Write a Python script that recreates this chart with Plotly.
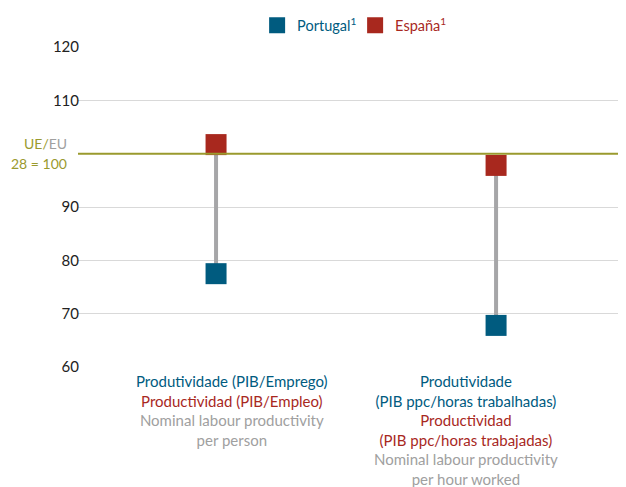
import plotly.graph_objects as go

categories = ["PIB/Emprego", "PIB/horas"]
portugal = [77.5, 67.8]
espana = [101.7, 97.8]
eu_ref = 100
tick_vals = [60, 70, 80, 90, 110, 120]

TEAL = "#005b7f"
RED = "#a8281e"
GRAY = "#a0a0a0"
OLIVE = "#9a9a2e"
FONT = "Lato"

# page body has an 8px margin, so the figure is 8px smaller on each axis
W, H = 618, 479
L, T, PH = 70, 39, 320
PW = W - L

fig = go.Figure()
for i, c in enumerate(categories):
    fig.add_trace(go.Scatter(x=[c, c], y=[portugal[i], espana[i]], mode="lines",
                             line=dict(color="#a6a6a8", width=4), showlegend=False, hoverinfo="skip"))

fig.add_trace(go.Scatter(x=categories, y=portugal, mode="markers",
                         name=f"<span style='color:{TEAL}'>Portugal<sup>1</sup></span>",
                         marker=dict(symbol="square", size=21, color=TEAL)))
fig.add_trace(go.Scatter(x=categories, y=espana, mode="markers",
                         name=f"<span style='color:{RED}'>España<sup>1</sup></span>",
                         marker=dict(symbol="square", size=21, color=RED)))

fig.add_shape(type="line", xref="paper", x0=0, x1=1, yref="y", y0=eu_ref, y1=eu_ref,
              line=dict(color=OLIVE, width=2))

fig.add_annotation(xref="paper", x=(60 - L) / PW, xanchor="right", yref="y", y=eu_ref + 1.9,
                   yanchor="middle",
                   text=f"<span style='color:{OLIVE}'>UE/</span><span style='color:{GRAY}'>EU</span>",
                   showarrow=False, align="right", borderpad=0, font=dict(family=FONT, size=14))
fig.add_annotation(xref="paper", x=(60 - L) / PW, xanchor="right", yref="y", y=eu_ref - 1.85,
                   yanchor="middle",
                   text=f"<span style='color:{OLIVE}'>28 = 100</span>",
                   showarrow=False, align="right", borderpad=0, font=dict(family=FONT, size=14))

label1 = (f"<span style='color:{TEAL}'>Produtividade (PIB/Emprego)</span><br>"
          f"<span style='color:{RED}'>Productividad (PIB/Empleo)</span><br>"
          f"<span style='color:{GRAY}'>Nominal labour productivity</span><br>"
          f"<span style='color:{GRAY}'>per person</span>")
label2 = (f"<span style='color:{TEAL}'>Produtividade</span><br>"
          f"<span style='color:{TEAL}'>(PIB ppc/horas trabalhadas)</span><br>"
          f"<span style='color:{RED}'>Productividad</span><br>"
          f"<span style='color:{RED}'>(PIB ppc/horas trabajadas)</span><br>"
          f"<span style='color:{GRAY}'>Nominal labour productivity</span><br>"
          f"<span style='color:{GRAY}'>per hour worked</span>")
fig.add_annotation(xref="paper", x=(224 - L) / PW, xanchor="center", yref="paper", y=-0.01, yanchor="top",
                   text=label1, showarrow=False, align="center", font=dict(family=FONT, size=15))
fig.add_annotation(xref="paper", x=(458 - L) / PW, xanchor="center", yref="paper", y=-0.01, yanchor="top",
                   text=label2, showarrow=False, align="center", font=dict(family=FONT, size=15))

fig.update_layout(
    width=W, height=H,
    margin=dict(l=L, r=0, t=T, b=H - T - PH, pad=0, autoexpand=False),
    plot_bgcolor="white", paper_bgcolor="white",
    font=dict(family=FONT, size=14, color="#222"),
    legend=dict(orientation="h", x=202 / W, xanchor="left", y=0.997, yanchor="top",
                yref="container", font=dict(size=14.5, color=TEAL), itemwidth=30,
                entrywidth=53),
    xaxis=dict(type="category", range=[-0.493, 1.464], showticklabels=False, showgrid=False,
               zeroline=False, showline=False, fixedrange=True),
    yaxis=dict(range=[60, 120], tickvals=tick_vals, showgrid=True, gridcolor="#d9d9d9",
               gridwidth=1, zeroline=False, showline=False, ticks="", ticklabelstandoff=-2,
               tickfont=dict(size=15, color="#222"), fixedrange=True),
)

fig.write_html("out.html")
